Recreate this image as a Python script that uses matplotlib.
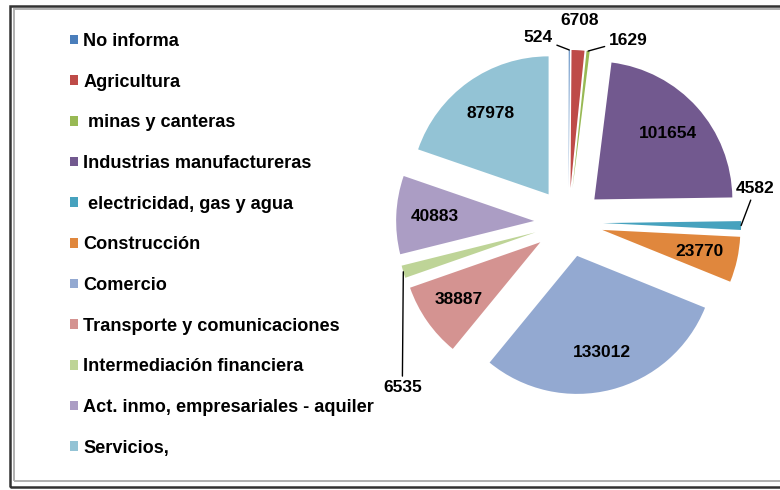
import matplotlib
matplotlib.use("Agg")
import matplotlib.pyplot as plt
import numpy as np
from matplotlib.patches import Rectangle

sectores = ["No informa", "Agricultura", " minas y canteras", "Industrias manufactureras",
            " electricidad, gas y agua", "Construcción", "Comercio",
            "Transporte y comunicaciones", "Intermediación financiera",
            "Act. inmo, empresariales - aquiler", "Servicios,"]
valores = [524, 6708, 1629, 101654, 4582, 23770, 133012, 38887, 6535, 40883, 87978]
colores = ["#4A7EBB", "#BE4B48", "#98B954", "#72598F", "#46A2BE", "#E0873D",
           "#93A9D1", "#D49391", "#BED497", "#AB9DC4", "#93C3D5"]

# offsets (pixels) for labels of the thin slices, placed outside the pie
offsets_fuera = {0: (-31, 12), 1: (2, 30), 2: (40, 11), 4: (14, 37), 8: (-1, -116)}

plt.rcParams['font.family'] = ['Liberation Sans', 'DejaVu Sans']

fig = plt.figure(figsize=(7.8, 4.9), dpi=100)
ax = fig.add_axes([0.4636, 0.1235, 0.5308, 0.845])

wedges, _ = ax.pie(valores, colors=colores, startangle=90, counterclock=False,
                   explode=[0.25] * len(valores), radius=1,
                   wedgeprops=dict(linewidth=0))
ax.set_xlim(-1.5, 1.5)
ax.set_ylim(-1.5, 1.5)
ax.set_aspect('equal')
ax.axis('off')

for i, w in enumerate(wedges):
    ang = np.deg2rad((w.theta1 + w.theta2) / 2)
    cx, cy = w.center
    txt = str(valores[i])
    if i in offsets_fuera:
        xy = (cx + np.cos(ang), cy + np.sin(ang))
        props = None if i == 1 else dict(arrowstyle='-', color='black', lw=1,
                                         shrinkA=1, shrinkB=0)
        ax.annotate(txt, xy=xy, xytext=offsets_fuera[i], textcoords='offset pixels',
                    ha='center', va='center', fontsize=12.5, fontweight='bold',
                    arrowprops=props)
    else:
        r = 0.72
        ax.text(cx + r * np.cos(ang), cy + r * np.sin(ang), txt, ha='center',
                va='center', fontsize=12.5, fontweight='bold')

fig.legend(wedges, sectores, loc='upper left', bbox_to_anchor=(70 / 780, 1 - 33 / 490),
           frameon=False, prop=dict(weight='bold', size=13.1),
           handlelength=0.43, handleheight=0.43, handletextpad=0.3,
           labelspacing=1.3, borderpad=0, borderaxespad=0)

# double frame around the chart area (right side runs off the picture)
fig.patches.append(Rectangle((10 / 780, 3 / 490), 800 / 780, 481 / 490,
                             transform=fig.transFigure, fill=False,
                             edgecolor='#333333', lw=1.8))
fig.patches.append(Rectangle((13.5 / 780, 9 / 490), 800 / 780, 472 / 490,
                             transform=fig.transFigure, fill=False,
                             edgecolor='#B0B0B0', lw=1.4))

fig.savefig("out.png", dpi=100)
